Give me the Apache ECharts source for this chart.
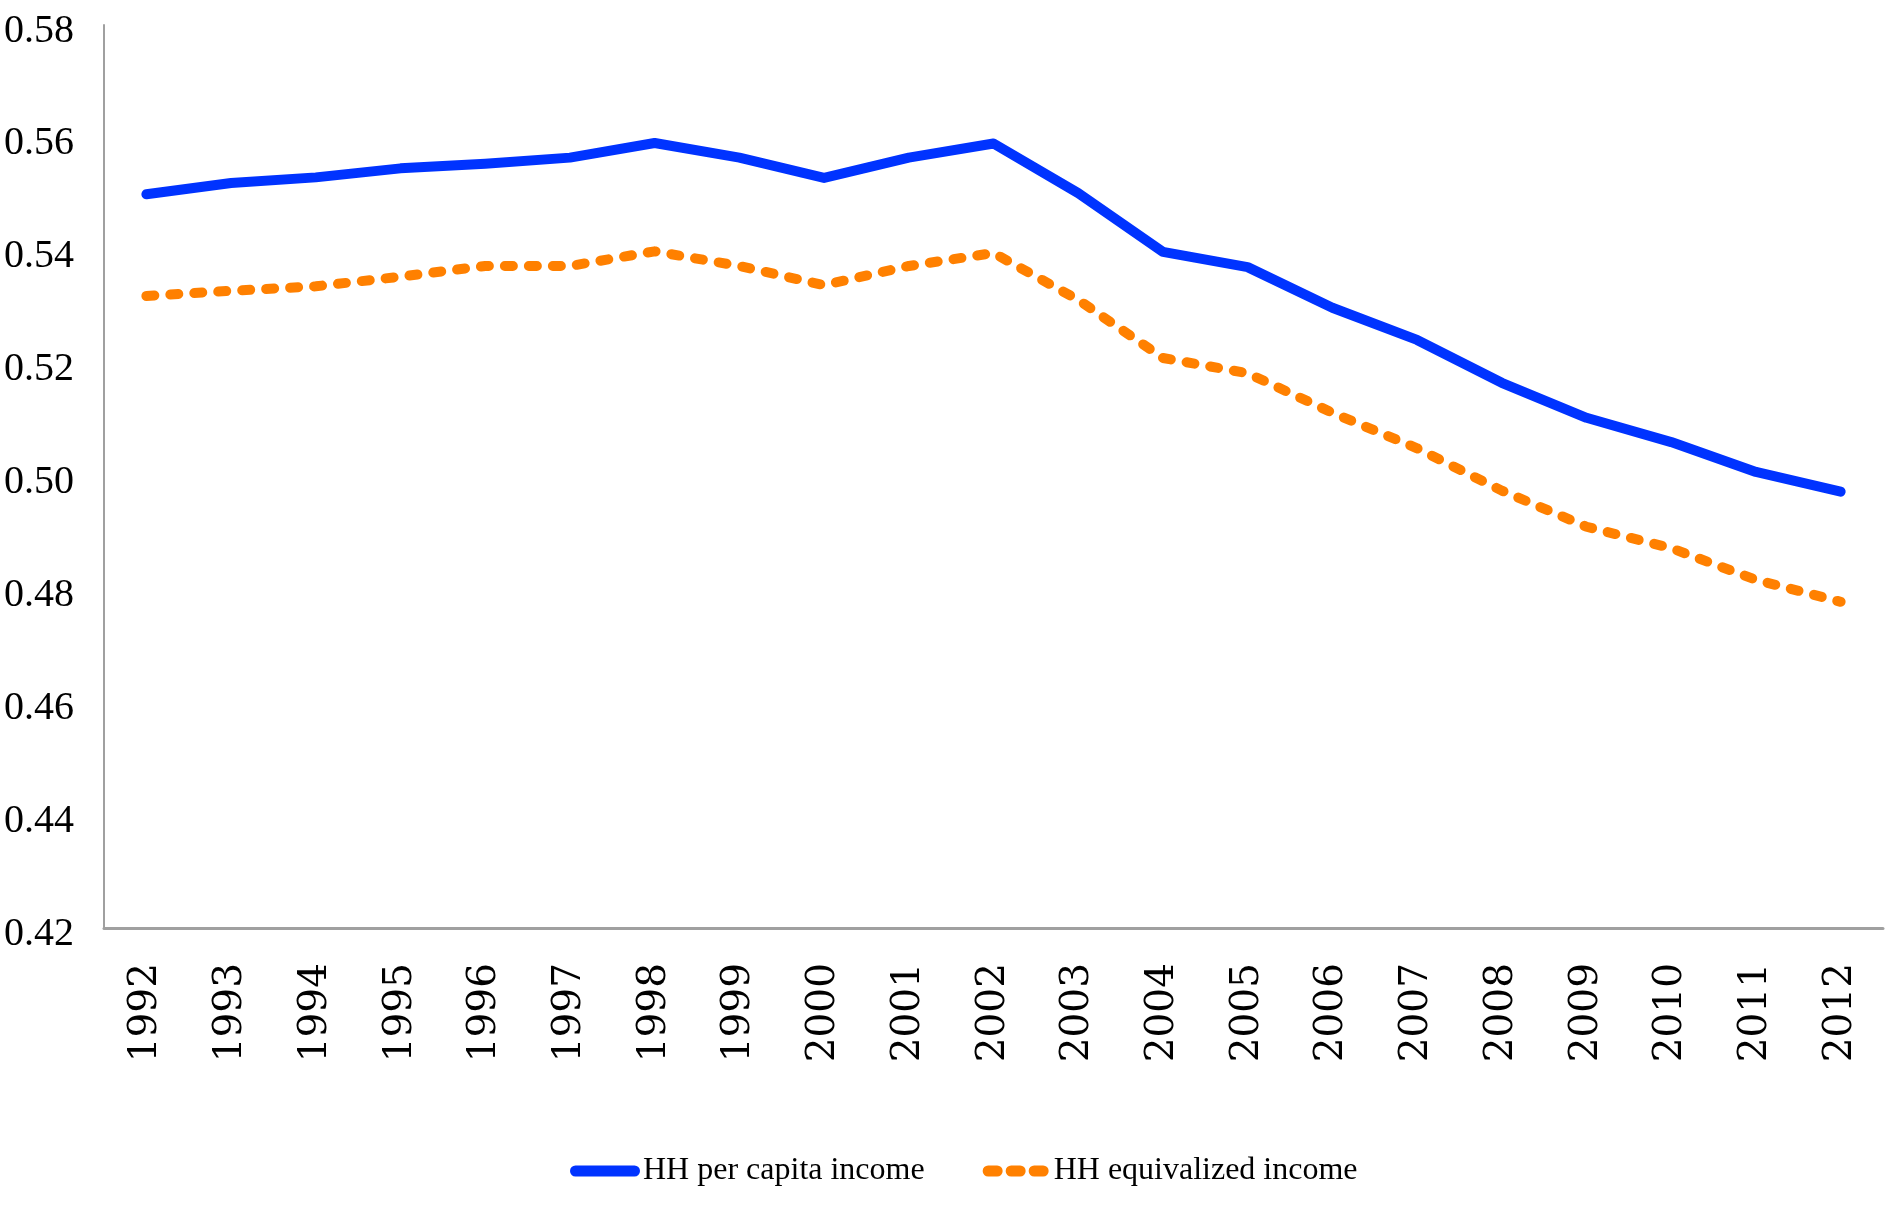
<!DOCTYPE html>
<html><head><meta charset="utf-8">
<script src="https://cdn.jsdelivr.net/npm/echarts@6/dist/echarts.min.js"></script>
<style>html,body{margin:0;padding:0;background:#fff}#c{width:1886px;height:1206px}</style>
</head><body><div id="c"></div>
<script>
const years = ['1992','1993','1994','1995','1996','1997','1998','1999','2000','2001','2002','2003','2004','2005','2006','2007','2008','2009','2010','2011','2012'];
const perCapita = [0.550,0.552,0.553,0.5546,0.5554,0.5565,0.5591,0.5565,0.5529,0.5565,0.559,0.5502,0.5398,0.5371,0.5299,0.5242,0.5166,0.5104,0.5061,0.5008,0.4973];
const equivalized = [0.532,0.5329,0.5337,0.5354,0.5373,0.5373,0.5399,0.5373,0.5339,0.5373,0.5396,0.5313,0.5210,0.5183,0.5113,0.5050,0.4975,0.4911,0.4873,0.4817,0.4778];
const yTicks = {min:0.42, max:0.58, step:0.02};
const seriesNames = ['HH per capita income','HH equivalized income'];

function capsules(n, w, gap, h){
  let p = 'path://';
  const r = h/2;
  for(let i=0;i<n;i++){
    const x0 = i*(w+gap);
    p += `M${x0+r},0 H${x0+w-r} A${r},${r} 0 0 1 ${x0+w-r},${h} H${x0+r} A${r},${r} 0 0 1 ${x0+r},0 Z `;
  }
  return p;
}

const chart = echarts.init(document.getElementById('c'));
chart.setOption({
  animation:false,
  backgroundColor:'#fff',
  grid:{left:104, right:3, top:25, bottom:278, containLabel:false},
  xAxis:{
    type:'category', data:years, boundaryGap:true,
    axisLine:{lineStyle:{color:'#a0a0a0', width:3}},
    axisTick:{show:false},
    axisLabel:{rotate:90, margin:35, color:'#000', fontFamily:'DejaVu Serif', fontSize:39, interval:0}
  },
  yAxis:{
    type:'value', min:yTicks.min, max:yTicks.max, interval:yTicks.step,
    axisLine:{show:true, lineStyle:{color:'#a0a0a0', width:2}},
    axisTick:{show:false},
    splitLine:{show:false},
    axisLabel:{margin:30, color:'#000', fontFamily:'Liberation Serif', fontSize:40,
      formatter:v=>'{a|'+v.toFixed(2)+'}',
      rich:{a:{fontFamily:'Liberation Serif', fontSize:40, color:'#000', padding:[12,0,0,0]}}}
  },
  legend:{
    bottom:14, left:565, itemWidth:70, itemHeight:11, itemGap:58,
    textStyle:{fontFamily:'Liberation Serif', fontSize:32, color:'#000', padding:[0,0,0,-2]},
    data:[
      {name:seriesNames[0], icon:capsules(1,70,0,11), itemStyle:{color:'#0033ff'}},
      {name:seriesNames[1], icon:capsules(3,20,3,11), itemStyle:{color:'#ff8000'}}
    ]
  },
  series:[
    {name:seriesNames[0], type:'line', data:perCapita, symbol:'none',
      lineStyle:{color:'#0033ff', width:10, cap:'round', join:'round'}, itemStyle:{color:'#0033ff'}},
    {name:seriesNames[1], type:'line', data:equivalized, symbol:'none',
      lineStyle:{color:'#ff8000', width:10, type:[8,16], cap:'round', join:'round'}, itemStyle:{color:'#ff8000'}}
  ]
});
</script></body></html>
